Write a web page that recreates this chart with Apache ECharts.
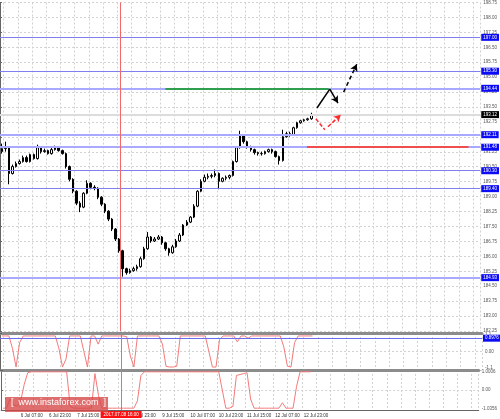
<!DOCTYPE html>
<html>
<head>
<meta charset="utf-8">
<script src="https://cdn.jsdelivr.net/npm/echarts@6/dist/echarts.min.js"></script>
<style>
html, body { margin: 0; padding: 0; background: #fff; }
#chart { width: 500px; height: 419px; }
</style>
</head>
<body>
<div id="chart"></div>
<script>
// 2h candles, slot units on the x axis
const slotCount = 135

const opens = [191.26, 191.41, 191.46, 190.16, 190.51, 190.66, 190.76, 190.96, 190.76, 191.11,
  190.91, 191.46, 191.26, 191.31, 191.16, 191.36, 191.46, 191.31, 191.16, 190.51,
  189.87, 189.27, 188.67, 188.47, 189.17, 189.67, 189.47, 189.42, 188.97, 188.62,
  188.27, 187.87, 187.37, 186.87, 186.28, 185.38, 185.18, 185.28, 185.38, 185.48,
  185.88, 186.38, 186.97, 186.77, 186.87, 186.97, 186.68, 186.38, 186.18, 186.48,
  186.77, 187.07, 187.57, 187.72, 187.97, 188.52, 189.27, 189.77, 189.97, 190.02,
  190.06, 190.16, 189.77, 189.92, 189.97, 190.06, 190.76, 191.46, 192.06, 191.76,
  191.51, 191.36, 191.21, 191.16, 191.16, 191.26, 191.36, 191.26, 191.01, 190.81,
  192.01, 192.16, 192.11, 192.46, 192.71, 192.81, 192.86, 192.91]
const closes = [191.41, 191.46, 190.16, 190.51, 190.66, 190.76, 190.96, 190.76, 191.11, 190.91,
  191.46, 191.26, 191.31, 191.16, 191.36, 191.46, 191.31, 191.16, 190.51, 189.87,
  189.27, 188.67, 188.47, 189.17, 189.67, 189.47, 189.42, 188.97, 188.62, 188.27,
  187.87, 187.37, 186.87, 186.28, 185.38, 185.18, 185.28, 185.38, 185.48, 185.88,
  186.38, 186.97, 186.77, 186.87, 186.97, 186.68, 186.38, 186.18, 186.48, 186.77,
  187.07, 187.57, 187.72, 187.97, 188.52, 189.27, 189.77, 189.97, 190.02, 190.06,
  190.16, 189.77, 189.92, 189.97, 190.06, 190.76, 191.46, 192.06, 191.76, 191.51,
  191.36, 191.21, 191.16, 191.16, 191.26, 191.36, 191.26, 191.01, 190.81, 192.01,
  192.16, 192.11, 192.46, 192.71, 192.81, 192.86, 192.91, 193.11]
const lows = [191.16, 191.26, 189.62, 190.11, 190.46, 190.61, 190.71, 190.71, 190.71, 190.86,
  190.86, 191.16, 191.21, 191.11, 191.11, 191.31, 191.26, 191.11, 190.41, 189.77,
  189.17, 188.57, 188.22, 188.42, 189.12, 189.37, 189.32, 188.87, 188.52, 188.17,
  187.77, 187.27, 186.77, 186.18, 184.98, 185.08, 185.13, 185.23, 185.28, 185.43,
  185.83, 186.33, 186.68, 186.72, 186.82, 186.58, 186.28, 186.03, 186.13, 186.43,
  186.72, 187.02, 187.52, 187.67, 187.92, 188.47, 189.22, 189.72, 189.87, 189.92,
  189.97, 189.37, 189.72, 189.82, 189.87, 190.01, 190.71, 191.41, 191.66, 191.41,
  191.26, 191.11, 191.06, 191.06, 191.11, 191.21, 191.16, 190.96, 190.61, 190.76,
  191.96, 192.01, 192.06, 192.41, 192.66, 192.76, 192.81, 192.86]
const highs = [191.66, 191.76, 191.51, 190.61, 190.76, 190.86, 191.06, 191.06, 191.16, 191.16,
  191.61, 191.51, 191.41, 191.36, 191.46, 191.56, 191.51, 191.36, 191.21, 190.56,
  189.92, 189.32, 188.77, 189.22, 189.82, 189.72, 189.57, 189.47, 189.02, 188.67,
  188.32, 187.92, 187.42, 186.92, 186.33, 185.43, 185.38, 185.48, 185.58, 185.98,
  186.48, 187.22, 187.02, 186.97, 187.07, 187.02, 186.73, 186.43, 186.58, 186.87,
  187.17, 187.62, 187.82, 188.02, 188.62, 189.32, 189.87, 190.11, 190.16, 190.16,
  190.36, 190.21, 189.97, 190.06, 190.11, 190.81, 191.51, 192.31, 192.11, 191.81,
  191.56, 191.41, 191.26, 191.26, 191.31, 191.41, 191.41, 191.31, 191.06, 192.36,
  192.26, 192.26, 192.51, 192.76, 192.86, 192.91, 192.96, 193.21]

const osc1 = [1.05, 1.05, 1.05, 0.2, -1.05, 0.6, 1.05, 1.05, 1.05, 1.05,
  1.05, 1.05, 1.05, 1.05, 1.05, 1.05, 0.2, -1.05, -0.5, 1.05,
  1.05, 1.05, 1.05, 0.0, -1.05, 1.05, 1.05, 0.5, 1.05, 1.05,
  1.05, 1.05, 1.05, 1.05, 1.05, 1.0, -0.3, -1.05, 1.05, 1.05,
  1.05, 1.05, 1.05, 1.05, 1.05, 0.5, -1.0, -1.05, -1.05, -1.0,
  1.05, 1.05, 1.05, 1.05, 1.05, 1.05, 1.05, 1.05, 0.0, -1.05,
  -1.05, 0.8, 1.05, 1.05, 1.05, 1.05, 0.65, 1.05, 1.05, 0.9,
  1.05, 1.05, 1.05, 1.05, 1.05, 1.05, 1.05, 1.05, 1.05, 0.3,
  -1.0, -1.05, 0.6, 1.05, 1.05, 1.05, 1.05, 1.05]
const osc2 = [-1.0, -1.0, -0.5, -0.8, -0.9, -0.6, 0.3, 0.95, 1.0, 1.0,
  1.0, 1.0, 1.0, 1.0, 1.0, 1.0, 1.0, 1.0, 1.0, -0.9,
  -1.0, -1.0, -1.0, -1.0, -1.0, -1.0, 0.9, -0.3, -1.0, -1.0,
  -1.0, -1.0, -1.0, -1.0, -1.0, -1.0, -1.0, -1.0, -0.6, 0.8,
  1.0, 1.0, 1.0, 1.0, 1.0, 1.0, 1.0, 1.0, 1.0, 1.0,
  1.0, 1.0, 1.0, 1.0, 1.0, 1.0, 1.0, 1.0, 1.0, 1.0,
  1.0, 1.0, 0.0, -1.0, -1.0, -0.9, 0.8, 0.85, 0.9, 0.95,
  -0.5, -1.0, -1.0, -1.0, -1.0, -1.0, -1.0, -1.0, -1.0, -0.7,
  -1.0, -1.0, -1.0, 0.2, 1.0, 1.0, 1.0, 1.0]

const levels = [197.00, 195.30, 194.44, 192.11, 191.48, 190.30, 189.40, 184.93]
const softLevels = [194.44, 192.11, 191.48, 184.93]
const lastPrice = 193.12
const oscLevel = 0.8976

const timeLabels = ['6 Jul 07:00', '6 Jul 23:00', '7 Jul 15:00', '8 Jul 07:00', '8 Jul 23:00',
  '9 Jul 15:00', '10 Jul 07:00', '10 Jul 23:00', '11 Jul 15:00', '12 Jul 07:00', '12 Jul 23:00']
const crosshairSlot = 33.9
const crosshairText = '2017.07.08 16:00'

// drawn forecast, in [slot, price]
const greenSegment = [[46.5, 194.44], [92.4, 194.44]]
const redSegment = [[86.3, 191.48], [131.7, 191.48]]
const blackSolid = [[89.1, 193.45], [92.7, 194.40], [95.0, 193.70]]
const blackDashed = [[96.6, 194.25], [100.3, 195.65]]
const redDown = [[88.8, 192.91], [91.3, 192.36]]
const redUp = [[92.2, 192.51], [95.8, 193.11]]

const font = 'Liberation Sans'
const slots = Array.from({ length: slotCount }, (_, i) =>
  i >= 5 && (i - 5) % 8 === 0 ? (timeLabels[(i - 5) / 8] || '') : '')

const dashedSplit = {
  show: true,
  interval: (idx) => idx % 4 === 1,
  lineStyle: { color: '#d2d2d2', type: [2, 2], width: 1 }
}

function segments(points, color, type, width, arrow) {
  const out = []
  for (let i = 0; i < points.length - 1; i++) {
    const last = i === points.length - 2
    out.push([
      { coord: points[i], symbol: 'none' },
      { coord: points[i + 1], symbol: arrow && last ? 'arrow' : 'none',
        lineStyle: { color, type, width } }
    ])
  }
  return out
}

function levelLine(v) {
  const soft = softLevels.includes(v)
  return {
    yAxis: v,
    lineStyle: { color: soft ? '#a9a9ff' : '#7f7ff2', width: soft ? 2 : 1, type: 'solid' },
    label: {
      show: true, position: 'end', distance: 1, formatter: v.toFixed(2),
      backgroundColor: '#0b0bf5', color: '#fff', fontSize: 4.5, fontFamily: font, padding: [1, 2]
    }
  }
}

const crossLine = (withLabel) => ({
  symbol: 'none', silent: true, animation: false,
  lineStyle: { color: '#f06a6a', width: 1, type: 'solid' },
  label: withLabel ? {
    show: true, position: 'start', distance: 1, formatter: crosshairText,
    backgroundColor: '#ff1010', color: '#fff', fontSize: 4.5, fontFamily: font, padding: [1, 3]
  } : { show: false },
  data: [{ xAxis: crosshairSlot }]
})

const rightAxis = (grid, min, max, interval) => ({
  type: 'value', gridIndex: grid, position: 'right', min, max, interval,
  axisLine: { show: true, lineStyle: { color: '#666', width: 1 } },
  axisTick: { show: true, length: 2, lineStyle: { color: '#666' } },
  axisLabel: { fontSize: 4.5, color: '#555', margin: 3, fontFamily: font },
  splitLine: { show: true, lineStyle: { color: '#d2d2d2', type: [2, 2] } }
})

const sepAxis = (grid) => ({
  type: 'category', gridIndex: grid, data: slots, position: 'top', boundaryGap: true,
  axisLine: { show: true, onZero: false, lineStyle: { color: '#8c8c8c', width: 3 } },
  axisTick: { show: false }, axisLabel: { show: false }, splitLine: dashedSplit
})

const chart = echarts.init(document.getElementById('chart'))

const y0 = rightAxis(0, 182.25, 198.75, 0.75)
y0.axisLabel.formatter = (v) => v.toFixed(2)
const y1 = rightAxis(1, -1.25, 1.25, 1.25)
y1.axisLabel.customValues = [1.1, 0, -1.1]
y1.axisLabel.formatter = (v) => (v === 0 ? '0.00' : String(v))
const y2 = rightAxis(2, -1.1, 1.1, 1.1)
y2.axisLabel.customValues = [1.0006, 0, -1.0356]
y2.axisLabel.formatter = (v) => (v === 0 ? '0.00' : String(v))

chart.setOption({
  animation: false,
  backgroundColor: '#fff',
  grid: [
    { left: 0, right: 18, top: 0, height: 331 },
    { left: 0, right: 18, top: 333, height: 37 },
    { left: 0, right: 18, top: 370, height: 40 }
  ],
  xAxis: [
    { type: 'category', gridIndex: 0, data: slots, boundaryGap: true,
      axisLine: { show: false, onZero: false }, axisTick: { show: false }, axisLabel: { show: false },
      splitLine: dashedSplit },
    { type: 'value', gridIndex: 0, min: 0, max: slotCount, show: false },
    sepAxis(1),
    { type: 'value', gridIndex: 1, min: 0, max: slotCount, show: false },
    sepAxis(2),
    { type: 'category', gridIndex: 2, data: slots, position: 'bottom', boundaryGap: true,
      axisLine: { show: true, onZero: false, lineStyle: { color: '#666' } },
      axisTick: { show: false },
      axisLabel: { show: true, interval: 0, align: 'left', fontSize: 4.5, color: '#333',
        margin: 3, fontFamily: font },
      splitLine: { show: false } },
    { type: 'value', gridIndex: 2, min: 0, max: slotCount, show: false }
  ],
  yAxis: [y0, y1, y2],
  series: [
    {
      type: 'candlestick', xAxisIndex: 0, yAxisIndex: 0, barWidth: 2,
      data: opens.map((o, i) => [o, closes[i], lows[i], highs[i]]),
      itemStyle: { color: '#ffffff', color0: '#000000', borderColor: '#000000', borderColor0: '#000000', borderWidth: 1 },
      markLine: {
        symbol: 'none', silent: true, animation: false,
        data: [
          { yAxis: lastPrice, lineStyle: { color: '#dcdcdc', width: 2, type: 'solid' },
            label: { show: true, position: 'end', distance: 1, formatter: lastPrice.toFixed(2),
              backgroundColor: '#000', color: '#fff', fontSize: 4.5, fontFamily: font, padding: [1, 2] } }
        ].concat(levels.map(levelLine))
      }
    },
    {
      type: 'line', xAxisIndex: 1, yAxisIndex: 0, data: [], silent: true,
      markLine: {
        silent: true, animation: false, symbolSize: [6, 7],
        label: { show: false },
        data: [].concat(
          segments(greenSegment, '#2f9e4f', 'solid', 2, false),
          segments(redSegment, '#ee4e4e', 'solid', 2, false),
          segments(blackSolid, '#000', 'solid', 1.5, true),
          segments(blackDashed, '#000', [4, 3], 1.5, true),
          segments(redDown, '#ff2a2a', [4, 2], 1.5, false),
          segments(redUp, '#ff2a2a', [4, 2], 1.5, true)
        )
      }
    },
    {
      type: 'line', xAxisIndex: 1, yAxisIndex: 0, data: [], silent: true,
      markLine: crossLine(false)
    },
    {
      type: 'line', xAxisIndex: 3, yAxisIndex: 1, silent: true, symbol: 'none',
      data: osc1.map((v, i) => [i + 0.5, v]),
      lineStyle: { color: '#f47a7a', width: 1 },
      markLine: {
        symbol: 'none', silent: true, animation: false,
        data: [
          { yAxis: oscLevel, lineStyle: { color: '#6b6bf0', width: 1, type: 'solid' },
            label: { show: true, position: 'end', distance: 1, formatter: oscLevel.toFixed(4),
              backgroundColor: '#0b0bf5', color: '#fff', fontSize: 4.5, fontFamily: font, padding: [1, 2] } },
          { xAxis: crosshairSlot, lineStyle: { color: '#f06a6a', width: 1, type: 'solid' }, label: { show: false } }
        ]
      }
    },
    {
      type: 'line', xAxisIndex: 6, yAxisIndex: 2, silent: true, symbol: 'none',
      data: osc2.map((v, i) => [i + 0.5, v]),
      lineStyle: { color: '#f47a7a', width: 1 },
      markLine: crossLine(true)
    }
  ],
  graphic: [
    { type: 'rect', left: 5, top: 397, shape: { width: 103, height: 15 },
      style: { fill: 'rgba(214,70,70,0.78)' }, z: 100 },
    { type: 'text', left: 11, top: 398,
      style: { text: '[  www.instaforex.com  ]', fill: '#fff', fontSize: 9, fontFamily: font }, z: 101 }
  ]
})
</script>
</body>
</html>
